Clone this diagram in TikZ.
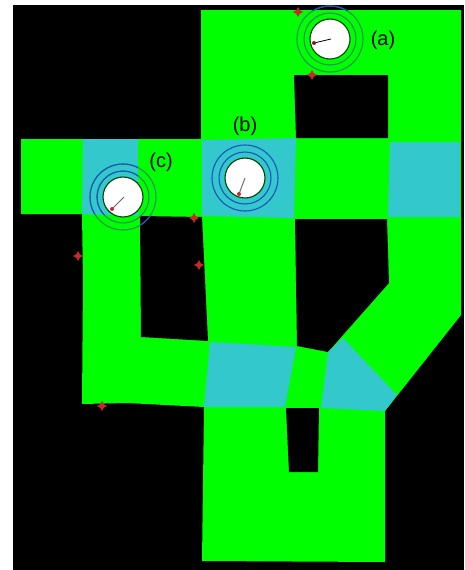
\documentclass[tikz,border=0pt]{standalone}
\usepackage{fontspec}
\setmainfont{Liberation Sans}
\usetikzlibrary{shapes.geometric}
\definecolor{floorgreen}{HTML}{00FF00}
\definecolor{zonecyan}{HTML}{33C8CC}
\definecolor{ringgreen}{HTML}{1F8F5F}
\definecolor{ringblue}{HTML}{1F50C0}
\definecolor{markred}{HTML}{C82828}
\tikzset{
  zone/.style={fill=zonecyan, draw=none},
  wall/.style={fill=black, draw=none},
  tag/.style={font=\fontsize{20}{22}\selectfont, inner sep=0pt},
  robot/.style={fill=white, draw=black!75!green, line width=1.1pt},
  redmark/.style={star, star points=4, star point ratio=2, minimum size=10pt, inner sep=0pt, fill=markred, draw=none}
}
\begin{document}
\begin{tikzpicture}[x=1pt, y=-1pt]
  \useasboundingbox (0,0) rectangle (464,570);
  % Background
  \fill[white] (0,0) rectangle (464,570);
  \fill[black] (13,5) rectangle (464,570);

  % Floor
  \fill[floorgreen] (201,10) -- (461,10) -- (461,315) -- (385,411) -- (385,562) -- (202,561)
    -- (204,407) -- (127,403) -- (82,404) -- (83,280) -- (82,214) -- (21,214) -- (21,139) -- (201,139) -- cycle;

  % Holes
  \fill[wall] (294,75) -- (388,75) -- (388,138) -- (296,138) -- cycle;
  \fill[wall] (140,216) -- (202,217) -- (208,341) -- (141,337) -- cycle;
  \fill[wall] (295,219) -- (387,219) -- (389,283) -- (328,352) -- (297,346) -- cycle;
  \fill[wall] (286,408) -- (319,408) -- (318,472) -- (289,472) -- cycle;

  % Zones
  \fill[zone] (83,139) -- (138,139) -- (138,216) -- (82,214) -- cycle;
  \fill[zone] (202,140) -- (296,138) -- (294,218) -- (202,216) -- cycle;
  \fill[zone] (390,142) -- (460,142) -- (460,217) -- (388,217) -- cycle;
  \fill[zone] (210,342) -- (296,347) -- (285,407) -- (204,407) -- cycle;
  \fill[zone] (343,338) -- (397,395) -- (385,411) -- (321,408) -- (328,352) -- cycle;

  % Rings on the floor
  \draw[ringgreen, line width=1.1pt] (330,39) circle (26) (330,39) circle (33);
  \draw[ringgreen, line width=1.1pt] (123,197) circle (26) (123,197) circle (33);

  % Rings over zones and black
  \begin{scope}
    \clip (296,0) rectangle (364,10);
    \draw[ringblue, line width=1.1pt] (330,39) circle (33);
  \end{scope}
  \begin{scope}
    \clip (83,139) -- (138,139) -- (138,216) -- (82,214) -- cycle
      (140,216) rectangle (165,240);
    \draw[ringblue, line width=1.1pt] (123,197) circle (26) (123,197) circle (33);
  \end{scope}
  \draw[ringblue, line width=1.1pt] (245,178) circle (26) (245,178) circle (33);

  % Robots
  \draw[robot] (330,39) circle (20);
  \draw[black, line width=0.8pt] (331,39) -- (314,43);
  \fill[markred!70!black] (314,43) circle (2);
  \draw[robot] (245,178) circle (20);
  \draw[black!60, line width=0.9pt] (245,178) -- (239,194);
  \fill[markred] (239,194) circle (2);
  \draw[robot] (123,197) circle (20);
  \draw[black!60, line width=0.9pt] (124,197) -- (112,209);
  \fill[markred] (112,209) circle (2);

  % Marks
  \node[redmark] (m1) at (298,12) {};
  \node[redmark] (m2) at (312,75) {};
  \node[redmark] (m3) at (194,218) {};
  \node[redmark] (m4) at (78,256) {};
  \node[redmark] (m5) at (199,265) {};
  \node[redmark] (m6) at (102,406) {};

  % Labels
  \node[tag] (labela) at (383,40) {(a)};
  \node[tag] (labelb) at (245,126) {(b)};
  \node[tag] (labelc) at (161,162) {(c)};
\end{tikzpicture}
\end{document}
